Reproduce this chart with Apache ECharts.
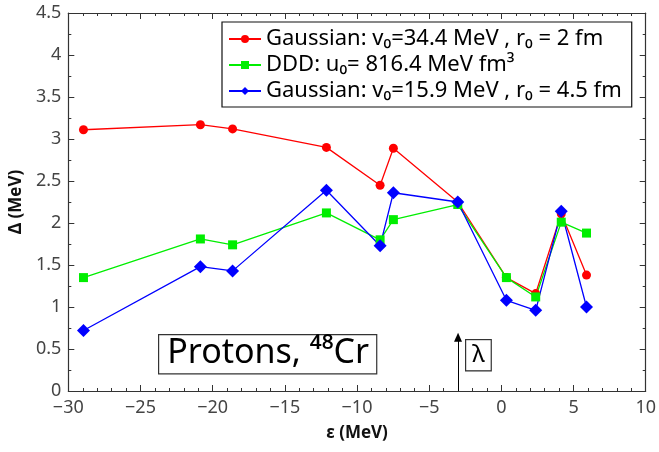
<!DOCTYPE html>
<html>
<head>
<meta charset="utf-8">
<script src="https://cdn.jsdelivr.net/npm/echarts@6/dist/echarts.min.js"></script>
<style>
  html, body { margin: 0; padding: 0; background: #fff; }
  #chart { width: 659px; height: 452px; }
</style>
</head>
<body>
<div id="chart"></div>
<script>
// 单粒子能级 (MeV)
var epsilon = [-28.95, -20.85, -18.62, -12.12, -8.4, -7.48, -3.02, 0.35, 2.38, 4.15, 5.9];
// 对隙 Δ (MeV)
var gaussA = [3.11, 3.17, 3.12, 2.90, 2.45, 2.89, 2.25, 1.35, 1.16, 2.11, 1.38];
var ddd    = [1.35, 1.81, 1.74, 2.12, 1.80, 2.04, 2.22, 1.35, 1.12, 2.01, 1.88];
var gaussB = [0.72, 1.48, 1.43, 2.39, 1.73, 2.36, 2.25, 1.08, 0.96, 2.14, 1.00];
var names = [
  'Gaussian: v₀=34.4 MeV , r₀ = 2 fm',
  'DDD: u₀= 816.4 MeV fm³',
  'Gaussian: v₀=15.9 MeV , r₀ = 4.5 fm'
];
var lambdaPos = -3.0;

function pairs(ys) {
  return ys.map(function (y, i) { return [epsilon[i], y]; });
}

var font = 'Noto Sans';
var axisColor = '#333';
// 坐标轴公共样式
function frameAxis(extra) {
  var base = {
    type: 'value',
    axisLine: { show: true, onZero: false, lineStyle: { color: axisColor, width: 1.2 } },
    axisTick: { show: true, inside: true, length: 6, lineStyle: { color: axisColor } },
    minorTick: { show: true, length: 3, lineStyle: { color: axisColor } },
    splitLine: { show: false }
  };
  return Object.assign(base, extra);
}

var chart = echarts.init(document.getElementById('chart'));
var option = {
  animation: false,
  textStyle: { fontFamily: font },
  grid: { left: 67, right: 11, top: 13, bottom: 61 },
  //图例
  legend: {
    orient: 'vertical',
    left: 222,
    top: 22,
    padding: [6, 10, 5, 6],
    itemGap: 4,
    itemWidth: 32,
    itemHeight: 10,
    borderColor: '#111',
    borderWidth: 1.2,
    borderRadius: 0,
    backgroundColor: '#fff',
    textStyle: { fontSize: 22, color: '#000', fontFamily: font },
    data: names
  },
  // x轴
  xAxis: [
    frameAxis({
      min: -30, max: 10, interval: 5,
      name: 'ε (MeV)',
      nameLocation: 'middle',
      nameGap: 34,
      nameTextStyle: { fontSize: 17, fontWeight: 'bold', color: '#111' },
      minorTick: { show: true, splitNumber: 5, length: 3, lineStyle: { color: axisColor } },
      axisLabel: {
        fontSize: 18, color: '#444', margin: 8,
        formatter: function (v) { return String(v).replace('-', '−'); }
      }
    }),
    frameAxis({
      position: 'top',
      min: -30, max: 10, interval: 5,
      minorTick: { show: true, splitNumber: 5, length: 3, lineStyle: { color: axisColor } },
      axisLabel: { show: false }
    })
  ],
  // y轴
  yAxis: [
    frameAxis({
      min: 0, max: 4.5, interval: 0.5,
      name: 'Δ (MeV)',
      nameLocation: 'middle',
      nameGap: 34,
      nameTextStyle: { fontSize: 17, fontWeight: 'bold', color: '#111' },
      minorTick: { show: true, splitNumber: 2, length: 3, lineStyle: { color: axisColor } },
      axisLabel: { fontSize: 18, color: '#444', margin: 7 }
    }),
    frameAxis({
      position: 'right',
      min: 0, max: 4.5, interval: 0.5,
      minorTick: { show: true, splitNumber: 2, length: 3, lineStyle: { color: axisColor } },
      axisLabel: { show: false }
    })
  ],
  series: [{
    name: names[0],
    type: 'line',
    data: pairs(gaussA),
    symbol: 'circle',
    symbolSize: 9,
    color: '#ff0000',
    lineStyle: { width: 1.3 },
    markLine: {
      silent: true,
      symbol: ['none', 'triangle'],
      symbolSize: [8, 9],
      lineStyle: { color: '#000', width: 1, type: 'solid' },
      label: { show: false },
      data: [[{ coord: [lambdaPos, 0] }, { coord: [lambdaPos, 0.64] }]]
    }
  }, {
    name: names[1],
    type: 'line',
    data: pairs(ddd),
    symbol: 'rect',
    symbolSize: 9,
    color: '#00ee00',
    lineStyle: { width: 1.3 }
  }, {
    name: names[2],
    type: 'line',
    data: pairs(gaussB),
    symbol: 'diamond',
    symbolSize: 13,
    color: '#0000ff',
    lineStyle: { width: 1.3 }
  }],
  graphic: [{
    type: 'text',
    left: 158, top: 334,
    style: {
      text: 'Protons, ⁴⁸Cr',
      font: '34px "Noto Sans"',
      fill: '#000',
      backgroundColor: '#fff',
      borderColor: '#333',
      borderWidth: 1.2,
      padding: [1, 7, 3, 8]
    }
  }, {
    type: 'text',
    left: 465, top: 339,
    style: {
      text: 'λ',
      font: '24px "Noto Sans"',
      fill: '#000',
      backgroundColor: '#fff',
      borderColor: '#333',
      borderWidth: 1.2,
      padding: [3, 6, 3, 6]
    }
  }]
};
chart.setOption(option);
</script>
</body>
</html>
